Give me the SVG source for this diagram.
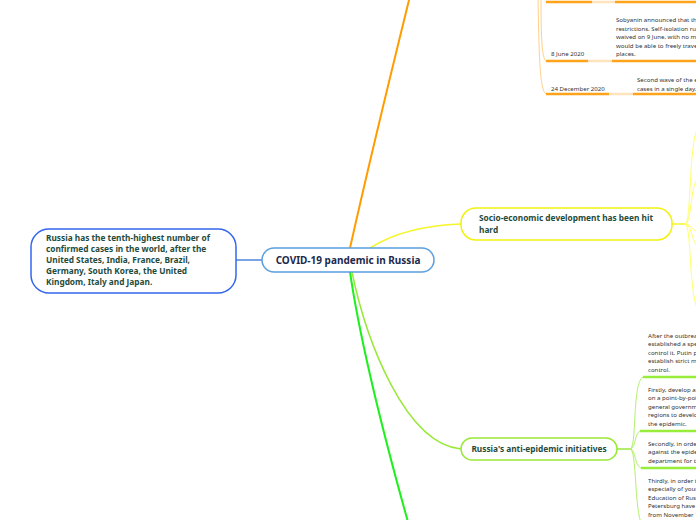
<svg xmlns="http://www.w3.org/2000/svg" width="696" height="520" viewBox="0 0 696 520">
<style>
.nt{font-family:"Noto Sans","Open Sans","DejaVu Sans",sans-serif;font-weight:bold;font-size:8.3px;fill:#1f4b3c}
.ct{font-family:"Noto Sans","Open Sans","DejaVu Sans",sans-serif;font-weight:bold;font-size:10px;fill:#1c2a4c}
.sm{font-family:"Noto Sans","Open Sans","DejaVu Sans",sans-serif;font-size:6.1px;fill:#333333}
.or{stroke:#ffa31a;stroke-width:2.5;fill:none}
.orl{stroke:#ffd08a;stroke-width:1;fill:none}
.orp{stroke:#ffe3bd;stroke-width:2.5;fill:none}
.ye{stroke:#ffff66;stroke-width:1;fill:none}
.li{stroke:#98ec3a;stroke-width:2.5;fill:none}
.lil{stroke:#b4f070;stroke-width:1;fill:none}
</style>
<rect width="696" height="520" fill="#ffffff"/>
<g id="connectors">
<path d="M350,248 Q372,150 410,-4" stroke="#ff9c00" stroke-width="2" fill="none"/>
<path d="M370,248 Q405,226 461,224" stroke="#f5f52a" stroke-width="1.5" fill="none"/>
<path d="M350,272 C360,340 385,440 408,522" stroke="#1ef01e" stroke-width="2" fill="none"/>
<path d="M352,272 C366,340 405,444 461,449" stroke="#9ae83a" stroke-width="1.5" fill="none"/>
<path d="M236,260 L262,260" stroke="#4f86e0" stroke-width="1.5" fill="none"/>
<path d="M672,224 L685,224" stroke="#f5f52a" stroke-width="1.5" fill="none"/>
<path class="ye" d="M685,224 C692,224 688,132 700,126"/>
<path class="ye" d="M685,224 C692,224 690,180 700,176"/>
<path class="ye" d="M685,224 C692,224 692,232 700,232"/>
<path class="ye" d="M685,224 C692,224 692,246 700,248"/>
<path class="ye" d="M685,224 C692,224 688,300 700,314"/>
<path d="M617,449 L630,449" stroke="#9ae83a" stroke-width="1.5" fill="none"/>
<path class="lil" d="M630,449 C637,449 632,382 643,377"/>
<path class="lil" d="M630,449 C636,449 634,434 640,431"/>
<path class="lil" d="M630,449 C636,449 634,465 641,468"/>
<path class="lil" d="M630,449 C637,449 634,510 642,525"/>
<path class="orl" d="M541,-5 C541,40 542,58 546,61"/>
<path class="orl" d="M538,-5 C539,60 540,90 546,94"/>
</g>
<g id="n-center">
<rect x="262" y="248" width="172" height="24" rx="12" fill="#ffffff" stroke="#5a9fdf" stroke-width="1.5"/>
<text class="ct" x="348" y="263.5" text-anchor="middle">COVID-19 pandemic in Russia</text>
</g>
<g id="n-left">
<rect x="31" y="229" width="205" height="64" rx="18" fill="#ffffff" stroke="#3367ee" stroke-width="1.5"/>
<text class="nt" x="46" y="241">Russia has the tenth-highest number of</text>
<text class="nt" x="46" y="252">confirmed cases in the world, after the</text>
<text class="nt" x="46" y="263">United States, India, France, Brazil,</text>
<text class="nt" x="46" y="274">Germany, South Korea, the United</text>
<text class="nt" x="46" y="285">Kingdom, Italy and Japan.</text>
</g>
<g id="n-socio">
<rect x="461" y="208" width="211" height="32" rx="15" fill="#ffffff" stroke="#f2f20c" stroke-width="1.5"/>
<text class="nt" x="479" y="220.5">Socio-economic development has been hit</text>
<text class="nt" x="479" y="232.5">hard</text>
</g>
<g id="n-anti">
<rect x="461" y="438" width="156" height="22" rx="11" fill="#ffffff" stroke="#9ae83a" stroke-width="1.5"/>
<text class="nt" x="539" y="452" text-anchor="middle">Russia's anti-epidemic initiatives</text>
</g>
<g id="n-top">
<path class="or" d="M546,2 L592,2"/><path class="orp" d="M592,2 L615,2"/><path class="or" d="M615,2 L700,2"/>
</g>
<g id="n-june">
<path class="or" d="M546,61 L588,61"/><path class="orp" d="M588,61 L612,61"/><path class="or" d="M612,61 L700,61"/>
<text class="sm" x="551" y="55.5">8 June 2020</text>
<text class="sm" x="616" y="22">Sobyanin announced that the</text>
<text class="sm" x="616" y="30.5">restrictions. Self-isolation rul</text>
<text class="sm" x="616" y="39">waived on 9 June, with no mo</text>
<text class="sm" x="616" y="47.5">would be able to freely travel</text>
<text class="sm" x="616" y="56">places.</text>
</g>
<g id="n-december">
<path class="or" d="M546,94 L609,94"/><path class="orp" d="M609,94 L633,94"/><path class="or" d="M633,94 L700,94"/>
<text class="sm" x="551" y="90.5">24 December 2020</text>
<text class="sm" x="637" y="81.5">Second wave of the e</text>
<text class="sm" x="637" y="90.5">cases in a single day.</text>
</g>
<g id="n-after">
<path class="li" d="M643,377 L700,377"/>
<text class="sm" x="648" y="337.5">After the outbrea</text>
<text class="sm" x="648" y="346">established a spe</text>
<text class="sm" x="648" y="354.5">control it. Putin pe</text>
<text class="sm" x="648" y="363">establish strict m</text>
<text class="sm" x="648" y="371.5">control.</text>
</g>
<g id="n-firstly">
<path class="li" d="M640,431 L700,431"/>
<text class="sm" x="648" y="391.5">Firstly, develop a</text>
<text class="sm" x="648" y="400">on a point-by-poi</text>
<text class="sm" x="648" y="408.5">general governm</text>
<text class="sm" x="648" y="417">regions to develo</text>
<text class="sm" x="648" y="425.5">the epidemic.</text>
</g>
<g id="n-secondly">
<path class="li" d="M641,468 L700,468"/>
<text class="sm" x="648" y="445.5">Secondly, in orde</text>
<text class="sm" x="648" y="454">against the epide</text>
<text class="sm" x="648" y="462.5">department for th</text>
</g>
<g id="n-thirdly">
<text class="sm" x="648" y="482.5">Thirdly, in order t</text>
<text class="sm" x="648" y="491">especially of your</text>
<text class="sm" x="648" y="499.5">Education of Russ</text>
<text class="sm" x="648" y="508">Petersburg have</text>
<text class="sm" x="648" y="516.5">from November 1</text>
</g>
</svg>
